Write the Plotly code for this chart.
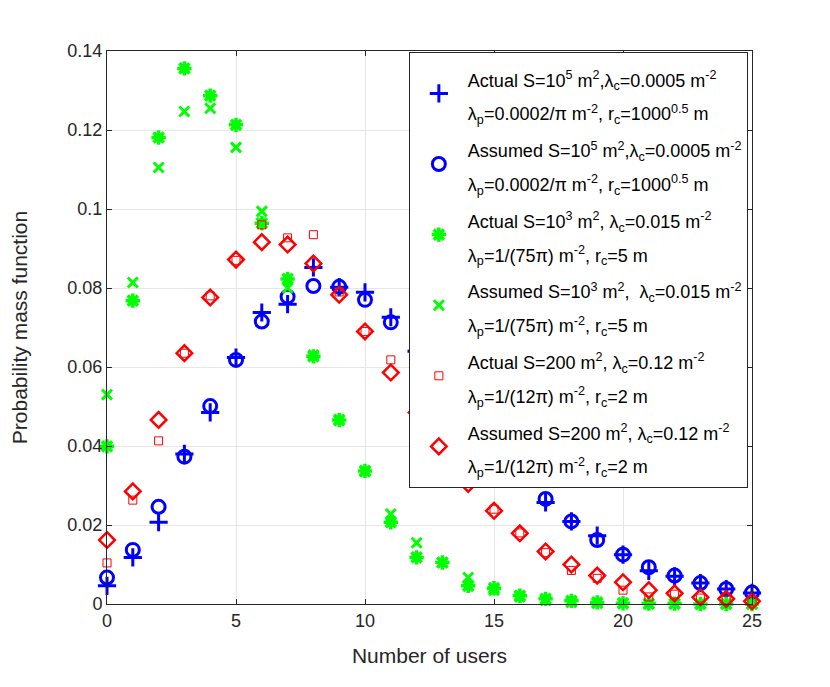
import plotly.graph_objects as go

# number of users
users = list(range(26))

# S = 1e5 m^2
actual_big = [0.0046, 0.0118, 0.0207, 0.0380, 0.0485, 0.0624, 0.0738, 0.0759, 0.0852, 0.0802,
              0.0789, 0.0726, 0.0640, 0.0560, 0.0470, 0.0390, 0.0325, 0.0257, 0.0209, 0.0173,
              0.0125, 0.0084, 0.0070, 0.0053, 0.0038, 0.0028]
assumed_big = [0.0067, 0.0137, 0.0246, 0.0373, 0.0501, 0.0618, 0.0715, 0.0778, 0.0805, 0.0803,
               0.0770, 0.0713, 0.0642, 0.0560, 0.0475, 0.0395, 0.0330, 0.0266, 0.0209, 0.0162,
               0.0125, 0.0093, 0.0072, 0.0053, 0.0038, 0.0029]

# S = 1e3 m^2
actual_mid = [0.0399, 0.0768, 0.1181, 0.1356, 0.1287, 0.1213, 0.0964, 0.0823, 0.0627, 0.0466,
              0.0337, 0.0207, 0.0118, 0.0105, 0.0046, 0.0040, 0.0021, 0.0013, 0.0008, 0.0004,
              0.0002, 0.0001, 0.0001, 0.0000, 0.0000, 0.0000]
assumed_mid = [0.0530, 0.0814, 0.1105, 0.1247, 0.1255, 0.1156, 0.0994, 0.0800, 0.0630, 0.0465,
               0.0335, 0.0228, 0.0155, 0.0105, 0.0067, 0.0035, 0.0018, 0.0009, 0.0004, 0.0002,
               0.0001, 0.0000, 0.0000, 0.0000, 0.0000, 0.0000]

# S = 200 m^2
actual_small = [0.0104, 0.0263, 0.0413, 0.0635, 0.0780, 0.0870, 0.0960, 0.0927, 0.0935, 0.0790,
                0.0690, 0.0618, 0.0490, 0.0400, 0.0310, 0.0240, 0.0180, 0.0130, 0.0085, 0.0065,
                0.0035, 0.0018, 0.0025, 0.0015, 0.0010, 0.0006]
assumed_small = [0.0162, 0.0285, 0.0466, 0.0635, 0.0776, 0.0872, 0.0916, 0.0910, 0.0862, 0.0783,
                 0.0690, 0.0586, 0.0485, 0.0390, 0.0304, 0.0236, 0.0179, 0.0133, 0.0100, 0.0072,
                 0.0055, 0.0035, 0.0027, 0.0017, 0.0013, 0.0007]

names = [
    "Actual S=10<sup>5</sup> m<sup>2</sup>,λ<sub>c</sub>=0.0005 m<sup>-2</sup><br>"
    "λ<sub>p</sub>=0.0002/π m<sup>-2</sup>, r<sub>c</sub>=1000<sup>0.5</sup> m",
    "Assumed S=10<sup>5</sup> m<sup>2</sup>,λ<sub>c</sub>=0.0005 m<sup>-2</sup><br>"
    "λ<sub>p</sub>=0.0002/π m<sup>-2</sup>, r<sub>c</sub>=1000<sup>0.5</sup> m",
    "Actual S=10<sup>3</sup> m<sup>2</sup>, λ<sub>c</sub>=0.015 m<sup>-2</sup><br>"
    "λ<sub>p</sub>=1/(75π) m<sup>-2</sup>, r<sub>c</sub>=5 m",
    "Assumed S=10<sup>3</sup> m<sup>2</sup>,&nbsp; λ<sub>c</sub>=0.015 m<sup>-2</sup><br>"
    "λ<sub>p</sub>=1/(75π) m<sup>-2</sup>, r<sub>c</sub>=5 m",
    "Actual S=200 m<sup>2</sup>, λ<sub>c</sub>=0.12 m<sup>-2</sup><br>"
    "λ<sub>p</sub>=1/(12π) m<sup>-2</sup>, r<sub>c</sub>=2 m",
    "Assumed S=200 m<sup>2</sup>, λ<sub>c</sub>=0.12 m<sup>-2</sup><br>"
    "λ<sub>p</sub>=1/(12π) m<sup>-2</sup>, r<sub>c</sub>=2 m",
]

series = [
    (actual_big, 'cross-thin-open', '#0000FF', 13, 3),
    (assumed_big, 'circle-open', '#0000FF', 13, 3),
    (actual_mid, 'asterisk-open', '#00FF00', 12, 3.5),
    (assumed_mid, 'x-thin-open', '#00FF00', 10, 3),
    (actual_small, 'square-open', '#FF0000', 8, 1),
    (assumed_small, 'diamond-open', '#FF0000', 12, 2.5),
]


def legend_label(txt):
    # smaller glyphs inside a larger base font -> wider line spacing, like MATLAB's legend
    return '<br>'.join('<span style="font-size:18px">%s</span>' % part for part in txt.split('<br>'))


fig = go.Figure()
for i, (vals, sym, col, size, lw) in enumerate(series):
    fig.add_trace(go.Scatter(
        x=users, y=vals, mode='markers', name=legend_label(names[i]), legendgroup=str(i),
        marker=dict(symbol=sym, size=size, color=col, line=dict(color=col, width=lw)),
        cliponaxis=False,
    ))

axis_style = dict(
    showline=True, linecolor='#262626', linewidth=1, mirror='ticks',
    ticks='inside', ticklen=5, tickcolor='#262626',
    showgrid=True, gridcolor='#e6e6e6', gridwidth=1, zeroline=False,
    tickfont=dict(size=18, color='#262626'), automargin=False,
)

# the page adds an 8px body margin, so margins are shifted by that amount
fig.update_layout(
    width=830, height=687,
    margin=dict(l=99, r=86, t=43, b=91),
    paper_bgcolor='white', plot_bgcolor='white',
    font=dict(family='Liberation Sans, Arial, sans-serif', color='#262626'),
    xaxis=dict(range=[0, 25], dtick=5,
               title=dict(text='Number of users', font=dict(size=21), standoff=18),
               **axis_style),
    yaxis=dict(range=[0, 0.14], dtick=0.02,
               title=dict(text='Probability mass function', font=dict(size=21), standoff=37),
               **axis_style),
    legend=dict(
        x=0.468, y=0.998, xanchor='left', yanchor='top',
        bgcolor='white', bordercolor='#262626', borderwidth=1,
        font=dict(size=26, color='black'), tracegroupgap=0,
        traceorder='grouped', itemsizing='trace', itemwidth=48,
    ),
    showlegend=True,
)

fig.write_html("out.html")
